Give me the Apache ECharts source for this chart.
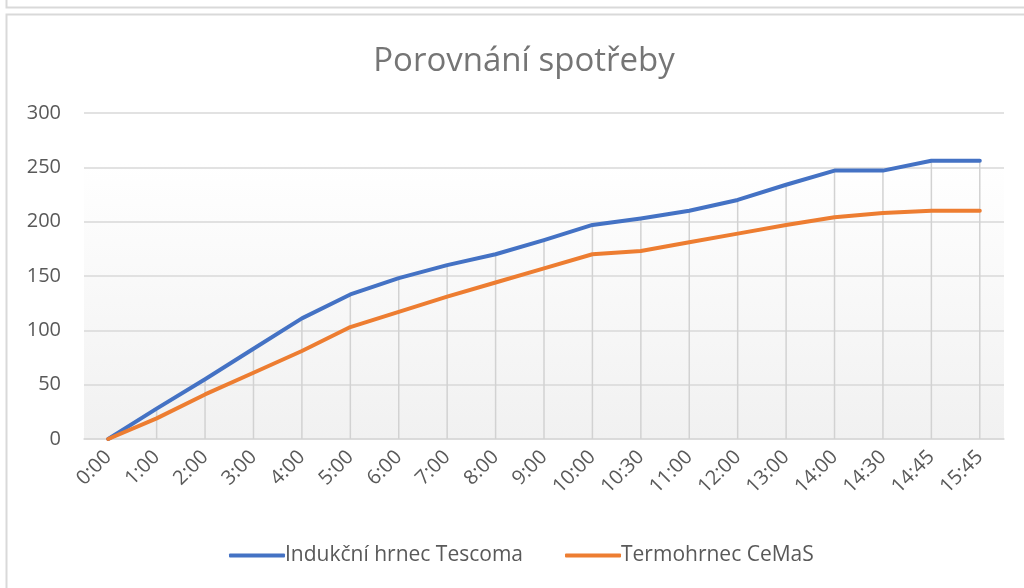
<!DOCTYPE html>
<html>
<head>
<meta charset="utf-8">
<script src="https://cdn.jsdelivr.net/npm/echarts@6/dist/echarts.min.js"></script>
<style>
  html, body { margin: 0; padding: 0; background: #fff; }
  #chart { width: 1024px; height: 588px; }
</style>
</head>
<body>
<div id="chart"></div>
<script>
// data
const categories = ["0:00", "1:00", "2:00", "3:00", "4:00", "5:00", "6:00", "7:00", "8:00", "9:00",
  "10:00", "10:30", "11:00", "12:00", "13:00", "14:00", "14:30", "14:45", "15:45"];
const tescoma = [0, 28, 55, 83, 111, 133, 148, 160, 170, 183, 197, 203, 210, 220, 234, 247, 247, 256, 256];
const cemas = [0, 19, 41, 61, 81, 103, 117, 131, 144, 157, 170, 173, 181, 189, 197, 204, 208, 210, 210];
const yTicks = [0, 50, 100, 150, 200, 250, 300];

// drop lines go from the higher of the two series down to the axis
const dropLines = tescoma.map((v, i) => Math.max(v, cemas[i]));

const chart = echarts.init(document.getElementById("chart"));
const FONT = "Open Sans";
const GRID_COLOR = "#d9d9d9";
const LABEL_COLOR = "#595959";

const option = {
  animation: false,
  backgroundColor: "#fff",
  title: {
    text: "Porovnání spotřeby",
    left: 519,
    textAlign: "center",
    top: 40,
    textStyle: {
      fontFamily: FONT,
      fontSize: 33,
      fontWeight: "normal",
      color: "#757575"
    }
  },
  graphic: [
    // frame of the box above
    {
      type: "rect",
      shape: { x: 6.5, y: -20, width: 1100, height: 27.5 },
      style: { fill: "none", stroke: "#d9d9d9", lineWidth: 2 },
      silent: true
    },
    // frame of the chart box
    {
      type: "rect",
      shape: { x: 6.5, y: 14.5, width: 1100, height: 600 },
      style: { fill: "none", stroke: "#d9d9d9", lineWidth: 2 },
      silent: true
    }
  ],
  legend: {
    data: ["Indukční hrnec Tescoma", "Termohrnec CeMaS"],
    left: 224,
    top: 540,
    icon: "roundRect",
    itemWidth: 56,
    itemHeight: 4,
    itemGap: 42,
    textStyle: {
      fontFamily: FONT,
      fontSize: 21,
      color: LABEL_COLOR,
      padding: [0, 0, 0, -5]
    }
  },
  grid: {
    left: 84,
    right: 20,
    top: 113,
    bottom: 149,
    show: true,
    borderWidth: 0,
    backgroundColor: new echarts.graphic.LinearGradient(0, 0, 0, 1, [
      { offset: 0, color: "#ffffff" },
      { offset: 0.15, color: "#ffffff" },
      { offset: 1, color: "#f1f1f1" }
    ])
  },
  xAxis: {
    type: "category",
    data: categories,
    boundaryGap: true,
    axisLine: { show: true, lineStyle: { color: GRID_COLOR, width: 1.5 } },
    axisTick: { show: false },
    splitLine: { show: false },
    axisLabel: {
      rotate: 45,
      margin: 15,
      interval: 0,
      fontFamily: FONT,
      fontSize: 20,
      color: LABEL_COLOR
    }
  },
  yAxis: {
    type: "value",
    min: yTicks[0],
    max: yTicks[yTicks.length - 1],
    interval: 50,
    axisLine: { show: false },
    axisTick: { show: false },
    splitLine: { show: true, lineStyle: { color: GRID_COLOR, width: 1.5 } },
    axisLabel: {
      margin: 23,
      fontFamily: FONT,
      fontSize: 20,
      color: LABEL_COLOR
    }
  },
  series: [
    {
      name: "drop",
      type: "bar",
      data: dropLines,
      barWidth: 1.5,
      silent: true,
      z: 1,
      itemStyle: { color: "#d2d2d2" }
    },
    {
      name: "Indukční hrnec Tescoma",
      type: "line",
      data: tescoma,
      showSymbol: false,
      z: 3,
      lineStyle: { color: "#4472C4", width: 4, cap: "round", join: "round" },
      itemStyle: { color: "#4472C4" }
    },
    {
      name: "Termohrnec CeMaS",
      type: "line",
      data: cemas,
      showSymbol: false,
      z: 3,
      lineStyle: { color: "#ED7D31", width: 4, cap: "round", join: "round" },
      itemStyle: { color: "#ED7D31" }
    }
  ]
};

chart.setOption(option);
</script>
</body>
</html>
